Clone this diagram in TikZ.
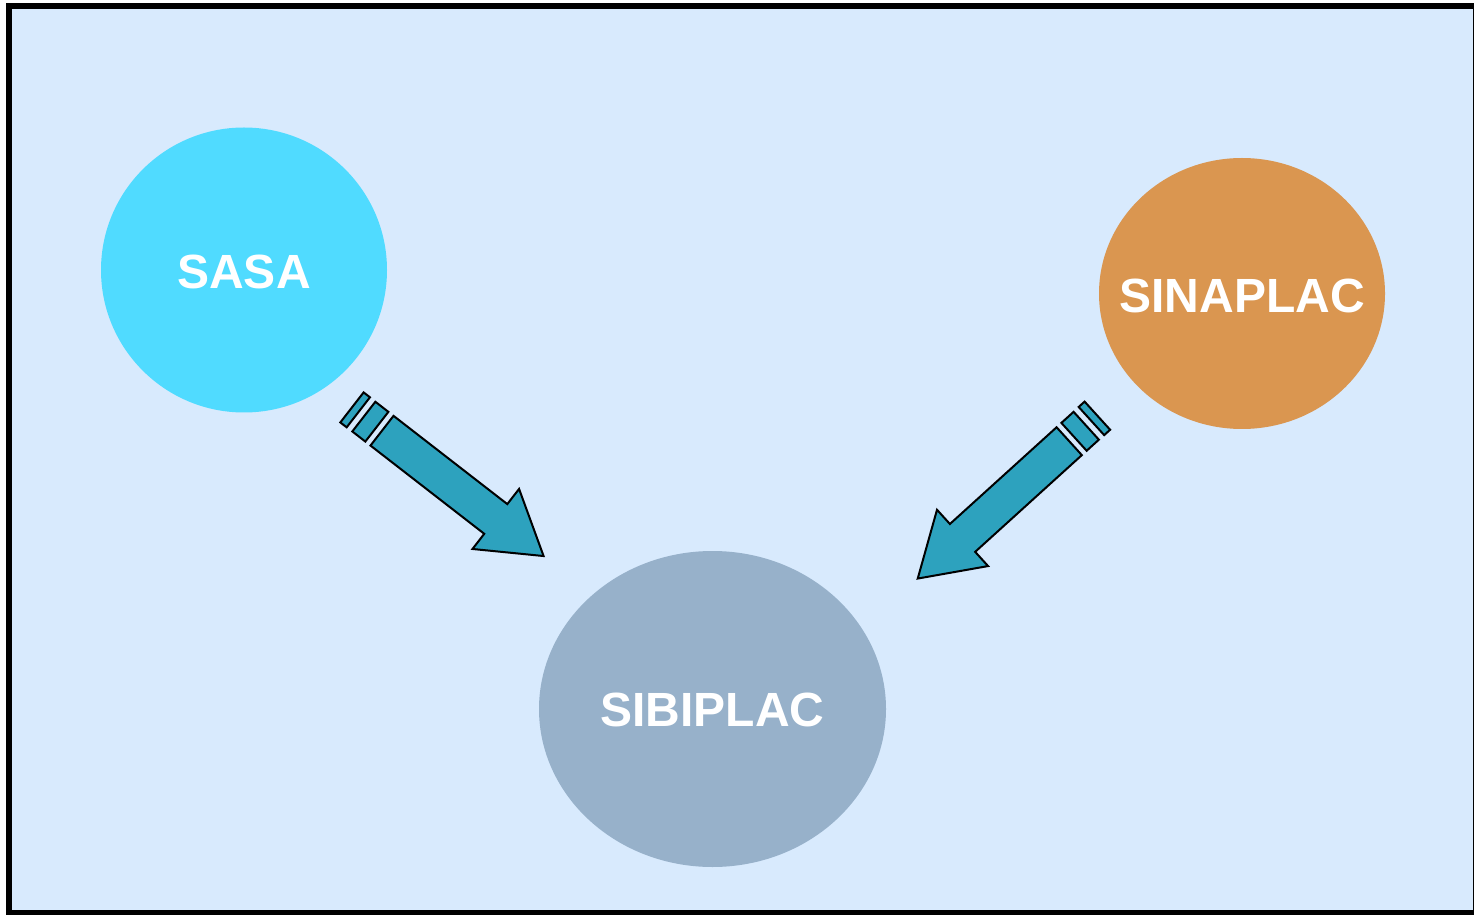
\documentclass[tikz,border=0pt]{standalone}
\usepackage{fontspec}
\setmainfont{Liberation Sans}
\usetikzlibrary{shapes.geometric}
\definecolor{bgblue}{HTML}{D8EAFD}
\definecolor{sasac}{HTML}{50DBFF}
\definecolor{sinac}{HTML}{DA9650}
\definecolor{sibic}{HTML}{97B1CA}
\definecolor{arrc}{HTML}{2DA2BE}
\tikzset{
  blob/.style={ellipse, inner sep=0pt, draw=none},
  lbl/.style={text=white, font=\bfseries\fontsize{48}{52}\selectfont, inner sep=0pt},
  arrowsty/.style={fill=arrc, draw=black, line width=2pt, line join=miter},
  stripearrow/.pic={
    \draw[arrowsty] (0,-18.8) -- (144,-18.8) -- (144,-38) -- (204.5,0) -- (144,38) -- (144,18.8) -- (0,18.8) -- cycle;
    \draw[arrowsty] (-23,-18.8) rectangle (-6.5,18.8);
    \draw[arrowsty] (-38,-19) rectangle (-30,19);
  }
}
\begin{document}
\begin{tikzpicture}[x=1pt,y=1pt]
\useasboundingbox (0,0) rectangle (1474,914);
\begin{scope}
\clip (0,0) rectangle (1474,914);
\draw[fill=bgblue, line width=6pt] (9,1) rectangle (1476,908);
\end{scope}
\node[blob, fill=sasac, minimum width=286pt, minimum height=285pt] (sasa) at (244,644) {};
\node[lbl] (sasat) at ([yshift=-2pt]sasa.center) {SASA};
\node[blob, fill=sinac, minimum width=286pt, minimum height=271pt] (sina) at (1242,620.5) {};
\node[lbl] (sinat) at ([yshift=-2pt]sina.center) {SINAPLAC};
\node[blob, fill=sibic, minimum width=347pt, minimum height=316pt] (sibi) at (712.5,205) {};
\node[lbl] (sibit) at ([yshift=-1pt]sibi.center) {SIBIPLAC};
\coordinate (a1) at (382,483.3);
\coordinate (a2) at (1069.2,472.8);
\pic[rotate=-37.8] at (a1) {stripearrow};
\pic[rotate=-137.8] at (a2) {stripearrow};
\end{tikzpicture}
\end{document}
